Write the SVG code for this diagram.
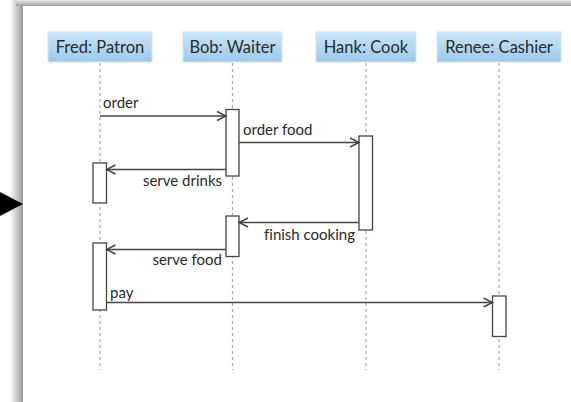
<svg xmlns="http://www.w3.org/2000/svg" width="571" height="402" viewBox="0 0 571 402">
  <style>
    .hdr { fill: url(#hdrGrad); stroke: #cfe4f4; stroke-width: 1; }
    .hdrText { font-family: Lato, "Open Sans", sans-serif; font-size: 16.5px; fill: #2a2a2a; text-anchor: middle; font-variant-ligatures: none; }
    .life { stroke: #a8a8a8; stroke-width: 1.2; stroke-dasharray: 3 3; fill: none; }
    .act { fill: #fff; stroke: #444; stroke-width: 1.3; }
    .msg { stroke: #444; stroke-width: 1.3; fill: none; marker-end: url(#openArrow); }
    .lbl { font-family: Lato, "Open Sans", sans-serif; font-size: 15px; fill: #2a2a2a; font-variant-ligatures: none; }
    .end { text-anchor: end; }
  </style>
  <defs>
    <linearGradient id="hdrGrad" x1="0" y1="0" x2="0" y2="1">
      <stop offset="0" stop-color="#cbe6f9"/>
      <stop offset="1" stop-color="#9dc8ea"/>
    </linearGradient>
    <linearGradient id="shadowLeft" x1="0" y1="0" x2="1" y2="0">
      <stop offset="0" stop-color="#fff"/>
      <stop offset="1" stop-color="#9a9a9a"/>
    </linearGradient>
    <linearGradient id="shadowTop" x1="0" y1="0" x2="0" y2="1">
      <stop offset="0" stop-color="#e8e8e8"/>
      <stop offset="1" stop-color="#a0a0a0"/>
    </linearGradient>
    <marker id="openArrow" markerWidth="12" markerHeight="12" refX="10" refY="6" orient="auto" markerUnits="userSpaceOnUse">
      <path d="M1,1.5 L10,6 L1,10.5" fill="none" stroke="#444" stroke-width="1.4"/>
    </marker>
  </defs>

  <!-- page background and panel shadow -->
  <rect x="0" y="0" width="571" height="402" fill="#fff"/>
  <rect x="10" y="0" width="13" height="402" fill="url(#shadowLeft)"/>
  <rect x="16" y="0" width="555" height="6" fill="url(#shadowTop)"/>
  <rect x="23" y="6" width="548" height="396" fill="#fff"/>

  <!-- pointer triangle -->
  <polygon points="0,192 23,204 0,216" fill="#000"/>

  <!-- participants -->
  <g id="fred">
    <rect class="hdr" x="48" y="32" width="104" height="30"/>
    <text class="hdrText" x="100" y="52.5">Fred: Patron</text>
    <line class="life" x1="100" y1="63" x2="100" y2="370"/>
  </g>
  <g id="bob">
    <rect class="hdr" x="183" y="32" width="99" height="30"/>
    <text class="hdrText" x="232.5" y="52.5">Bob: Waiter</text>
    <line class="life" x1="232.5" y1="63" x2="232.5" y2="370"/>
  </g>
  <g id="hank">
    <rect class="hdr" x="316" y="32" width="100" height="30"/>
    <text class="hdrText" x="366" y="52.5">Hank: Cook</text>
    <line class="life" x1="366" y1="63" x2="366" y2="370"/>
  </g>
  <g id="renee">
    <rect class="hdr" x="437" y="32" width="124" height="30"/>
    <text class="hdrText" x="499" y="52.5">Renee: Cashier</text>
    <line class="life" x1="499" y1="63" x2="499" y2="370"/>
  </g>

  <!-- activation bars -->
  <g id="activations">
    <rect class="act" x="226" y="109.5" width="13" height="66.5"/>
    <rect class="act" x="93" y="163" width="13.5" height="40"/>
    <rect class="act" x="359" y="136" width="13.5" height="94"/>
    <rect class="act" x="226" y="216" width="13" height="40.5"/>
    <rect class="act" x="93" y="243" width="13.5" height="67"/>
    <rect class="act" x="492.5" y="296" width="13.5" height="40.5"/>
  </g>

  <!-- messages -->
  <g id="connectors">
    <line class="msg" x1="100" y1="116" x2="226" y2="116"/>
    <line class="msg" x1="239" y1="142.5" x2="359" y2="142.5"/>
    <line class="msg" x1="226" y1="169.5" x2="106.5" y2="169.5"/>
    <line class="msg" x1="359" y1="222.5" x2="239" y2="222.5"/>
    <line class="msg" x1="226" y1="249.5" x2="106.5" y2="249.5"/>
    <line class="msg" x1="106.5" y1="302.5" x2="492.5" y2="302.5"/>
  </g>

  <!-- message labels -->
  <g id="labels">
    <text class="lbl" x="103" y="107.5">order</text>
    <text class="lbl" x="243" y="134.5">order food</text>
    <text class="lbl end" x="222" y="185.5">serve drinks</text>
    <text class="lbl end" x="355" y="239.5">finish cooking</text>
    <text class="lbl end" x="222" y="264.5">serve food</text>
    <text class="lbl" x="110" y="297.5">pay</text>
  </g>
</svg>
